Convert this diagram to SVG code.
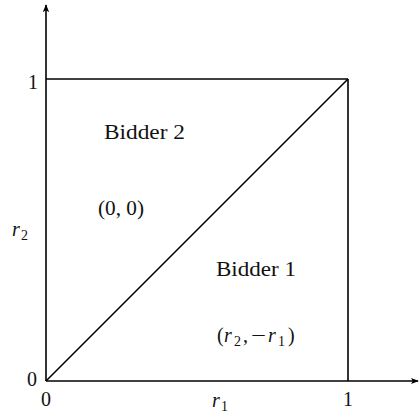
<svg xmlns="http://www.w3.org/2000/svg" width="420" height="415" viewBox="0 0 420 415">
<defs>
<marker id="ah" viewBox="0 0 10 10" refX="9" refY="5" markerWidth="8" markerHeight="8" markerUnits="userSpaceOnUse" orient="auto">
<path d="M0,1 L10,5 L0,9 L2.5,5 Z" fill="#000"/>
</marker>
<style>
text{font-family:"Liberation Serif","DejaVu Serif",serif;font-size:20px;fill:#111}
.it{font-style:italic}
.sub{font-size:14px}
line{stroke:#000;stroke-width:1.6;fill:none}
</style>
</defs>
<g id="connectors">
<line x1="46" y1="381" x2="46" y2="5" marker-end="url(#ah)"/>
<line x1="46" y1="381" x2="418" y2="381" marker-end="url(#ah)"/>
<line x1="46" y1="79" x2="348" y2="79"/>
<line x1="348" y1="79" x2="348" y2="381"/>
<line x1="46" y1="381" x2="348" y2="79"/>
</g>
<g id="labels">
<text x="38" y="89" text-anchor="end">1</text>
<text x="37" y="386" text-anchor="end">0</text>
<text x="46" y="406" text-anchor="middle">0</text>
<text x="348" y="406" text-anchor="middle">1</text>
<text x="212" y="407" class="it">r<tspan class="sub" font-style="normal" x="221" dy="4">1</tspan></text>
<text x="12" y="236" class="it">r<tspan class="sub" font-style="normal" x="21" dy="4">2</tspan></text>
</g>
<g id="region2">
<text x="104" y="139" textLength="81" lengthAdjust="spacingAndGlyphs">Bidder 2</text>
<text x="98" y="215" textLength="46" lengthAdjust="spacingAndGlyphs">(0, 0)</text>
</g>
<g id="region1">
<text x="216" y="276" textLength="80" lengthAdjust="spacingAndGlyphs">Bidder 1</text>
<text x="217" y="342">(<tspan class="it" x="224">r</tspan><tspan class="sub" x="234" dy="4">2</tspan><tspan x="243" dy="-4">,</tspan><tspan x="251" textLength="15" lengthAdjust="spacingAndGlyphs">−</tspan><tspan class="it" x="268">r</tspan><tspan class="sub" x="278" dy="4">1</tspan><tspan x="288" dy="-4">)</tspan></text>
</g>
</svg>
